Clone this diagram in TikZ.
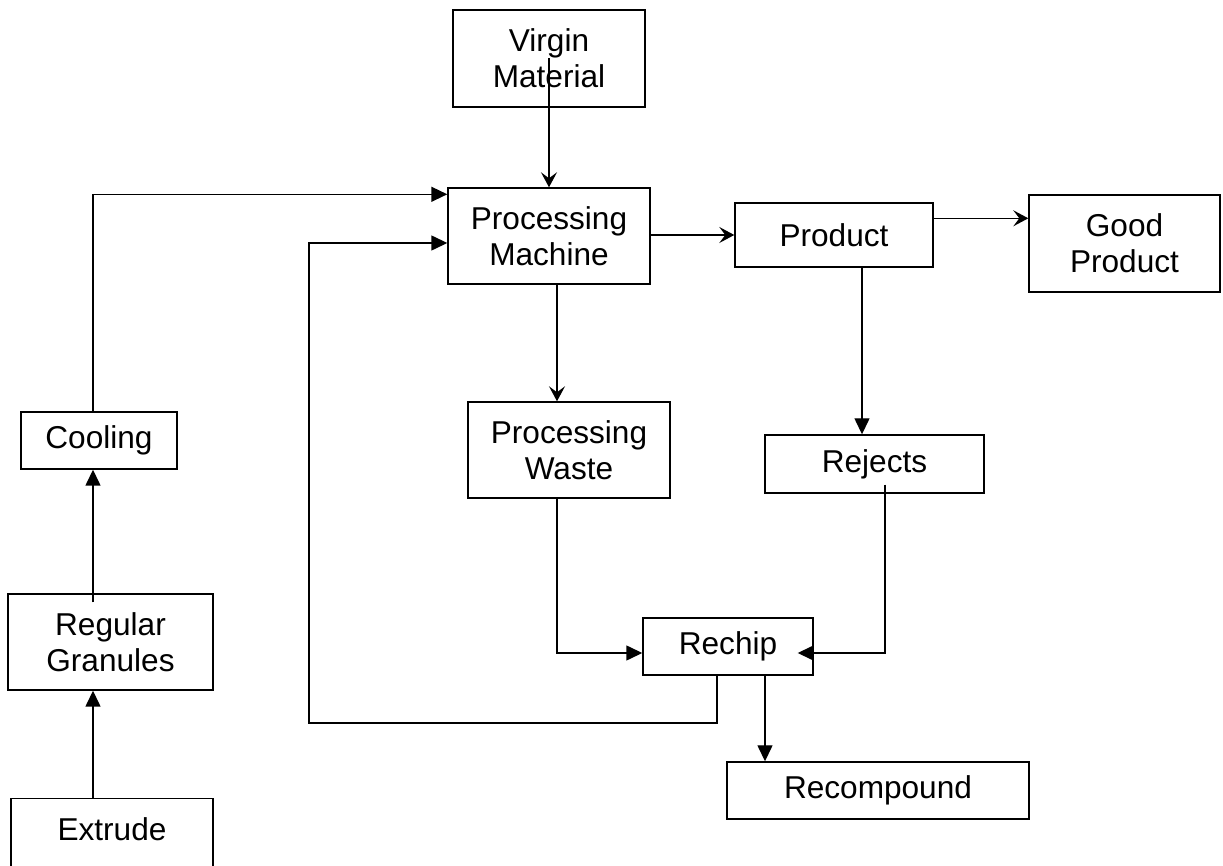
\documentclass[tikz,border=0pt]{standalone}
\usepackage{fontspec}
\setmainfont{Liberation Sans}
\usetikzlibrary{arrows.meta,positioning,calc}
\tikzset{
    flowBox/.style={draw, line width=0.7pt, align=center, inner sep=0pt},
    flowTwo/.style={flowBox, minimum height=48pt},
    flowOne/.style={flowBox, minimum height=28.5pt},
    flowArrow/.style={line width=0.7pt, -{Stealth[length=7.5pt,width=8pt,inset=3pt]}},
    flowTri/.style={line width=0.7pt, -{Triangle[length=8pt,width=7.5pt]}}
}

\begin{document}
\begin{tikzpicture}[x=0.5pt, y=-0.5pt, font=\fontsize{15.8}{17.8}\selectfont]
    \clip (0,0) rectangle (1223,866);

    % Boxes
    \node[flowTwo, minimum width=96pt, minimum height=48.5pt] (virgin) at (549,58.5) {Virgin\\Material};
    \node[flowTwo, minimum width=101pt] (machine) at (549,236) {Processing\\Machine};
    \node[flowBox, minimum width=99pt, minimum height=32pt] (product) at (834,235) {Product};
    \node[flowTwo, minimum width=95.5pt, minimum height=48.5pt] (good) at (1124.5,243.5) {Good\\Product};
    \node[flowTwo, minimum width=101pt] (waste) at (569,450) {Processing\\Waste};
    \node[flowBox, minimum width=109.5pt, minimum height=29pt] (rejects) at (874.5,464) {Rejects};
    \node[flowOne, minimum width=78pt] (cooling) at (99,440.5) {Cooling};
    \node[flowTwo, minimum width=102.5pt] (granules) at (110.5,642) {Regular\\Granules};
    \node[flowTwo, minimum width=101pt, minimum height=48.5pt, anchor=north] (extrude) at (112,798) {Extrude\\\phantom{X}};
    \node[flowOne, minimum width=85pt] (rechip) at (728,646.5) {Rechip};
    \node[flowOne, minimum width=151pt] (recompound) at (878,790.5) {Recompound};

    % Helper points
    \coordinate (loop) at (309,723);
    \coordinate (mw) at ([xshift=4pt]machine.south);
    \coordinate (pg) at ([yshift=-8pt]product.north east);
    \coordinate (pr) at ([xshift=14pt]product.south);
    \coordinate (rr) at ([xshift=18.5pt]rechip.south);
    \coordinate (gc) at ([xshift=-8.75pt,yshift=-4.5pt]granules.north);
    \coordinate (eg) at ([xshift=-9.5pt]extrude.north);

    % Connectors
    \draw[flowArrow] (virgin.center) -- (virgin.center |- machine.north);
    \draw[flowTri] ([xshift=-3pt]cooling.north) |- ([yshift=-3.5pt]machine.north west);
    \draw[flowTri] ([xshift=-5.5pt]rechip.south) |- (loop) |- ([yshift=-3.5pt]machine.west);
    \draw[flowArrow] (machine.east |- product.west) -- (product.west);
    \draw[flowArrow] (pg) -- (pg -| good.west);
    \draw[flowArrow] (mw) -- (mw |- waste.north);
    \draw[flowTri] (pr) -- (pr |- rejects.north);
    \draw[flowTri] ([xshift=-6pt]waste.south) |- ([yshift=-3.25pt]rechip.west);
    \draw[flowTri] ([xshift=5.25pt,yshift=4.5pt]rejects.south) |- ([xshift=-8pt,yshift=-3.25pt]rechip.east);
    \draw[flowTri] (rr) -- (rr |- recompound.north);
    \draw[flowTri] (gc) -- (gc |- cooling.south);
    \draw[flowTri] (eg) -- (eg |- granules.south);
\end{tikzpicture}
\end{document}
